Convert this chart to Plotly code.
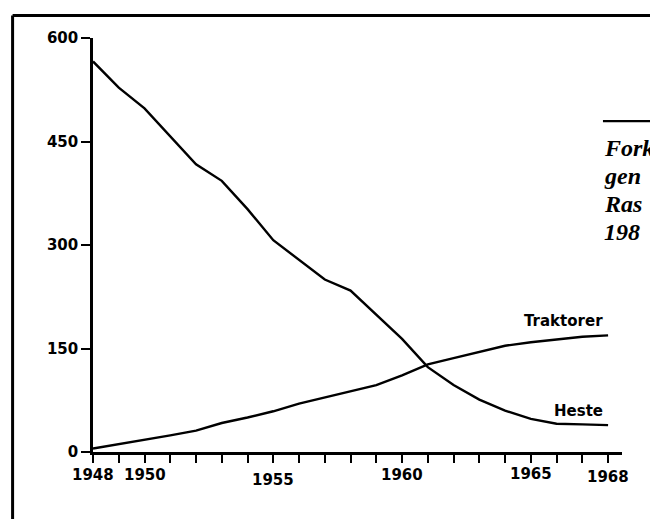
import plotly.graph_objects as go

years = list(range(1948, 1969))
heste = [566, 528, 498, 458, 417, 393, 352, 307, 278, 250, 234, 199,
         164, 123, 97, 76, 60, 48, 41, 40, 39]
traktorer = [5, 11, 17, 24, 31, 42, 50, 59, 70, 79, 87, 97,
             111, 127, 136, 145, 154, 159, 163, 167, 169]

y_ticks = [0, 150, 300, 450, 600]
x_tick_vals = [1948, 1950, 1955, 1960, 1965, 1968]
x_tick_text = ["1948", "1950", "1955", "1960", "1965", "1968"]
x_tick_shift = [0, 0, -5, 0, 1, -2]

side_text = ["Fork", "gen", "Ras", "198"]

fig = go.Figure()
fig.add_trace(go.Scatter(x=years, y=heste, mode="lines", name="Heste",
                         line=dict(color="black", width=2.4)))
fig.add_trace(go.Scatter(x=years, y=traktorer, mode="lines", name="Traktorer",
                         line=dict(color="black", width=2.4)))

tickfont = dict(family="DejaVu Sans", size=15, color="black", weight="bold")

fig.update_layout(
    width=650, height=519,
    margin=dict(l=93, r=28, t=38, b=67, pad=0),
    paper_bgcolor="white", plot_bgcolor="white",
    showlegend=False,
    xaxis=dict(range=[1948, 1968.54], showgrid=False, zeroline=False,
               showline=True, linecolor="black", linewidth=2.5,
               tickvals=x_tick_vals, ticktext=x_tick_text, showticklabels=False,
               ticks="outside", ticklen=8, tickwidth=2, tickcolor="black",
               minor=dict(dtick=1, tick0=1948, ticks="outside", ticklen=8,
                          tickwidth=2, tickcolor="black")),
    yaxis=dict(range=[0, 600], showgrid=False, zeroline=False,
               showline=True, linecolor="black", linewidth=2.5,
               tickvals=y_ticks, ticks="outside", ticklen=9, tickwidth=2,
               tickcolor="black", tickfont=tickfont),
)

for v, t, s in zip(x_tick_vals, x_tick_text, x_tick_shift):
    fig.add_annotation(x=v, y=0, xref="x", yref="y", text=t, showarrow=False,
                       font=tickfont, yanchor="top", yshift=-12 + s)

lab_font = dict(family="DejaVu Sans", size=15, color="black", weight="bold")
fig.add_annotation(x=1968, y=traktorer[-1], xref="x", yref="y", text="Traktorer",
                   showarrow=False, xanchor="right", yanchor="bottom",
                   xshift=-3, yshift=3, font=lab_font)
fig.add_annotation(x=1968, y=heste[-1], xref="x", yref="y", text="Heste",
                   showarrow=False, xanchor="right", yanchor="bottom",
                   xshift=-3, yshift=3, font=lab_font)

# frame of the scanned page
fig.add_shape(type="line", xref="paper", yref="paper", x0=-0.152, x1=1.1,
              y0=1.0546, y1=1.0546, line=dict(color="black", width=3))
fig.add_shape(type="line", xref="paper", yref="paper", x0=-0.152, x1=-0.152,
              y0=1.0546, y1=-0.2, line=dict(color="black", width=3))
fig.add_shape(type="line", xref="paper", yref="paper", x0=0.964, x1=1.1,
              y0=0.799, y1=0.799, line=dict(color="black", width=2.2))

for i, t in enumerate(side_text):
    fig.add_annotation(x=0.964, y=0.799, xref="paper", yref="paper", text=t,
                       showarrow=False, xanchor="left", yanchor="middle",
                       xshift=-1, yshift=-27 - 28 * i,
                       font=dict(family="Liberation Serif", size=24,
                                 color="black", style="italic", weight="bold"))

fig.write_html("out.html",
               config={"displayModeBar": False},
               post_script="document.body.style.margin='0';"
                           "document.body.style.overflow='hidden';")
